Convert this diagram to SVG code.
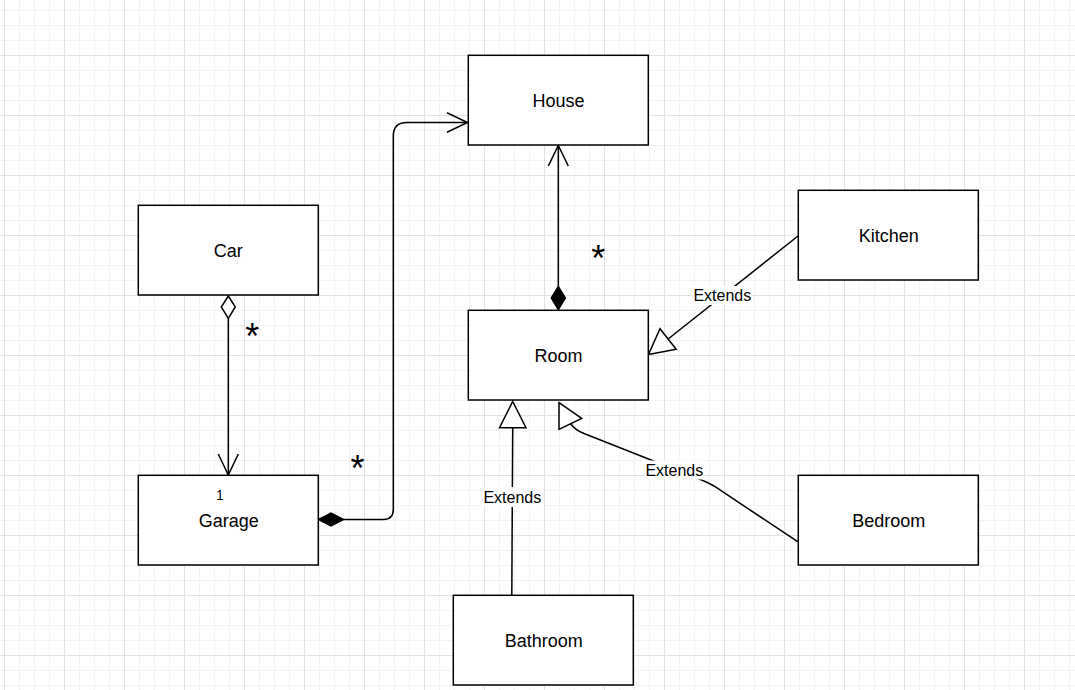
<svg xmlns="http://www.w3.org/2000/svg" width="1075" height="690" viewBox="0 0 1075 690">
  <defs>
    <pattern id="grid" patternUnits="userSpaceOnUse" x="4" y="-5" width="60" height="60">
      <path d="M15.5 0V60M30.5 0V60M45.5 0V60M0 15.5H60M0 30.5H60M0 45.5H60" stroke="#f3f3f3" stroke-width="1" fill="none"/>
      <path d="M0.5 0V60M0 0.5H60" stroke="#e2e2e2" stroke-width="1" fill="none"/>
    </pattern>
  </defs>
  <style>
    .box { fill: #ffffff; stroke: #000000; stroke-width: 1.5; }
    .lbl { font-family: "Liberation Sans", Arial, sans-serif; font-size: 18px; fill: #000000; text-anchor: middle; }
    .ext { font-family: "Liberation Sans", Arial, sans-serif; font-size: 16px; fill: #000000; text-anchor: middle; }
    .mult { font-family: "Liberation Sans", Arial, sans-serif; font-size: 36px; fill: #000000; text-anchor: middle; }
    .one { font-family: "Liberation Sans", Arial, sans-serif; font-size: 14px; fill: #000000; text-anchor: middle; }
    .edge { fill: none; stroke: #000000; stroke-width: 1.5; }
    .hollow { fill: #ffffff; stroke: #000000; stroke-width: 1.5; }
    .solid { fill: #000000; stroke: #000000; stroke-width: 1.5; }
    .lblbg { fill: #ffffff; }
  </style>
  <rect x="0" y="0" width="1075" height="690" fill="#ffffff"/>
  <rect x="0" y="0" width="1075" height="690" fill="url(#grid)"/>

  <g id="connectors">
    <!-- Car to Garage (aggregation) -->
    <g id="edge-car-garage">
      <path class="edge" d="M228.3 318.3V475"/>
      <polygon class="hollow" points="228.3,296 235.3,307 228.3,318.3 221.3,307"/>
      <polyline class="edge" points="218.3,454 228.3,475 238.3,454"/>
      <text class="mult" x="252.2" y="349">*</text>
    </g>
    <!-- Garage to House (composition) -->
    <g id="edge-garage-house">
      <path class="edge" d="M343.5 519.5H383.3Q393.3 519.5 393.3 509.5V136Q393.3 122.5 406.8 122.5H467.5"/>
      <polygon class="solid" points="318.5,519.5 331,513.2 343.5,519.5 331,525.8"/>
      <polyline class="edge" points="447,112.7 467.5,122.5 447,132.3"/>
      <text class="mult" x="357.5" y="481">*</text>
    </g>
    <!-- Room to House (composition) -->
    <g id="edge-room-house">
      <path class="edge" d="M558.3 286V145.5"/>
      <polygon class="solid" points="558.3,309.5 565.3,298 558.3,286.5 551.3,298"/>
      <polyline class="edge" points="548.3,166 558.3,145.5 568.3,166"/>
      <text class="mult" x="598.3" y="270.5">*</text>
    </g>
    <!-- Kitchen to Room (generalization) -->
    <g id="edge-kitchen-room">
      <path class="edge" d="M798 236L668.1 339"/>
      <polygon class="hollow" points="648.5,354.5 660,328.8 676.2,349.2"/>
      <rect class="lblbg" x="693" y="286" width="59" height="19"/>
      <text class="ext" x="722.3" y="301">Extends</text>
    </g>
    <!-- Bathroom to Room (generalization) -->
    <g id="edge-bathroom-room">
      <path class="edge" d="M511.8 595L512.7 427.7"/>
      <polygon class="hollow" points="512.7,401.5 526,427.7 499.5,427.7"/>
      <rect class="lblbg" x="482.5" y="487" width="59" height="20"/>
      <text class="ext" x="512.3" y="503.3">Extends</text>
    </g>
    <!-- Bedroom to Room (generalization) -->
    <g id="edge-bedroom-room">
      <path class="edge" d="M797.7 541.7L714 486Q708 482.5 701 479.8L584 433.5Q575 430 570.5 423.5"/>
      <polygon class="hollow" points="559,402.7 581.7,418.3 559,429.3"/>
      <rect class="lblbg" x="644.5" y="460.5" width="59" height="19"/>
      <text class="ext" x="674.3" y="476">Extends</text>
    </g>
  </g>

  <g id="node-house">
    <rect class="box" x="468.3" y="55.3" width="180" height="89.7"/>
    <text class="lbl" x="558.5" y="107">House</text>
  </g>
  <g id="node-car">
    <rect class="box" x="138.3" y="205.3" width="180" height="89.7"/>
    <text class="lbl" x="228.3" y="257">Car</text>
  </g>
  <g id="node-garage">
    <rect class="box" x="138.3" y="475.3" width="180" height="89.7"/>
    <text class="lbl" x="228.8" y="527">Garage</text>
  </g>
  <g id="node-room">
    <rect class="box" x="468.3" y="310.3" width="180" height="89.7"/>
    <text class="lbl" x="558.5" y="362">Room</text>
  </g>
  <g id="node-kitchen">
    <rect class="box" x="798.3" y="190.3" width="180" height="89.7"/>
    <text class="lbl" x="888.8" y="242">Kitchen</text>
  </g>
  <g id="node-bedroom">
    <rect class="box" x="798.3" y="475.3" width="180" height="89.7"/>
    <text class="lbl" x="888.8" y="527">Bedroom</text>
  </g>
  <g id="node-bathroom">
    <rect class="box" x="453.3" y="595.3" width="180" height="89.7"/>
    <text class="lbl" x="543.8" y="647">Bathroom</text>
  </g>
  <g id="edge-labels">
    <text class="one" x="220" y="500">1</text>
  </g>
</svg>
